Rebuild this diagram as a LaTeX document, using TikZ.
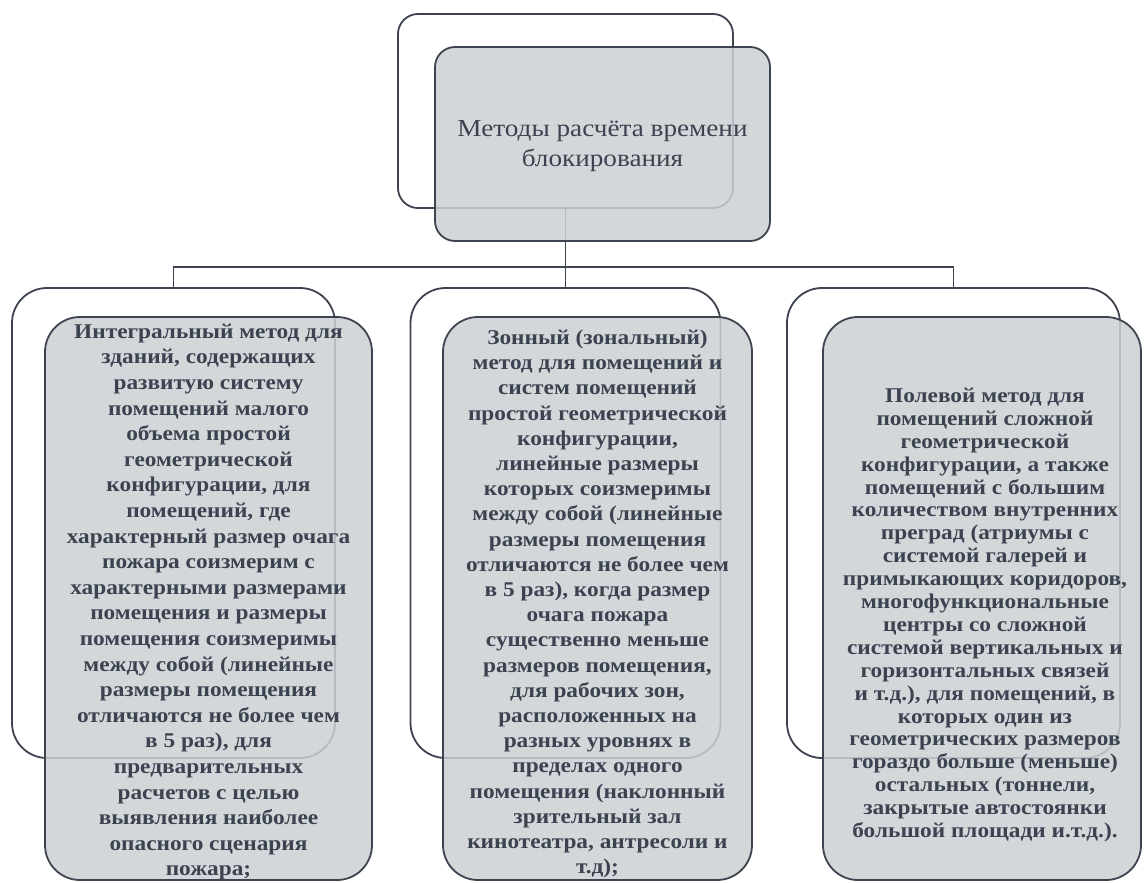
\documentclass[tikz,border=0pt]{standalone}
\usepackage{fontspec}
\setmainfont{Liberation Serif}
\newfontfamily\bodyfont[FakeStretch=1.11]{Liberation Serif}
\definecolor{lineC}{HTML}{3D4350}
\definecolor{fillC}{HTML}{CDD0D4}
\definecolor{textC}{HTML}{3B4250}
\begin{document}
\begin{tikzpicture}[x=1pt,y=-1pt,
  backbox/.style={draw=lineC, line width=1.8pt, fill=white, inner sep=0pt},
  frontbox/.style={draw=lineC, line width=1.8pt, fill=fillC, fill opacity=0.85, inner sep=0pt},
  conn/.style={draw=lineC, line width=1.5pt},
  txt/.style={inner sep=0pt, align=center, text=textC},
  childtxt/.style={txt, font=\bodyfont\bfseries\fontsize{21}{#1}\selectfont}]
\useasboundingbox (0,0) rectangle (1144,883);
% top
\node[backbox, rounded corners=20pt, minimum width=335pt, minimum height=194pt] (tback) at (565.5,111) {};
% children back boxes
\node[backbox, rounded corners=35pt, minimum width=323pt, minimum height=470pt] (lback) at (173.5,523) {};
\node[backbox, rounded corners=35pt, minimum width=310pt, minimum height=470pt] (mback) at (565.5,523) {};
\node[backbox, rounded corners=35pt, minimum width=333pt, minimum height=470pt] (rback) at (953.5,523) {};
% connectors
\coordinate (hub) at (565.5,267);
\draw[conn] (tback.south) -- (hub);
\draw[conn] (hub) -| (lback.north);
\draw[conn] (hub) -- (mback.north);
\draw[conn] (hub) -| (rback.north);
% front boxes
\node[frontbox, rounded corners=20pt, minimum width=335pt, minimum height=194pt] (tfront) at (602.5,144) {};
\node[frontbox, rounded corners=35pt, minimum width=327pt, minimum height=563pt] (lfront) at (208.5,598.5) {};
\node[frontbox, rounded corners=35pt, minimum width=309pt, minimum height=563pt] (mfront) at (597.5,598.5) {};
\node[frontbox, rounded corners=35pt, minimum width=318pt, minimum height=563pt] (rfront) at (982,598.5) {};
% texts
\node[txt, font=\bodyfont\fontsize{24.5}{30}\selectfont] (ttxt) at (602.5,146)
 {Методы расчёта времени\\блокирования};
\node[childtxt=25.6] (ltxt) at (208.5,602)
 {Интегральный метод для\\зданий, содержащих\\развитую систему\\помещений малого\\объема простой\\геометрической\\конфигурации, для\\помещений, где\\характерный размер очага\\пожара соизмерим с\\характерными размерами\\помещения и размеры\\помещения соизмеримы\\между собой (линейные\\размеры помещения\\отличаются не более чем\\в 5 раз), для\\предварительных\\расчетов с целью\\выявления наиболее\\опасного сценария\\пожара;};
\node[childtxt=25.2] (mtxt) at (597.5,604)
 {Зонный (зональный)\\метод для помещений и\\систем помещений\\простой геометрической\\конфигурации,\\линейные размеры\\которых соизмеримы\\между собой (линейные\\размеры помещения\\отличаются не более чем\\в 5 раз), когда размер\\очага пожара\\существенно меньше\\размеров помещения,\\для рабочих зон,\\расположенных на\\разных уровнях в\\пределах одного\\помещения (наклонный\\зрительный зал\\кинотеатра, антресоли и\\т.д);};
\node[childtxt=22.9] (rtxt) at (985,615)
 {Полевой метод для\\помещений сложной\\геометрической\\конфигурации, а также\\помещений с большим\\количеством внутренних\\преград (атриумы с\\системой галерей и\\примыкающих коридоров,\\многофункциональные\\центры со сложной\\системой вертикальных и\\горизонтальных связей\\и т.д.), для помещений, в\\которых один из\\геометрических размеров\\гораздо больше (меньше)\\остальных (тоннели,\\закрытые автостоянки\\большой площади и.т.д.).};
\end{tikzpicture}
\end{document}
